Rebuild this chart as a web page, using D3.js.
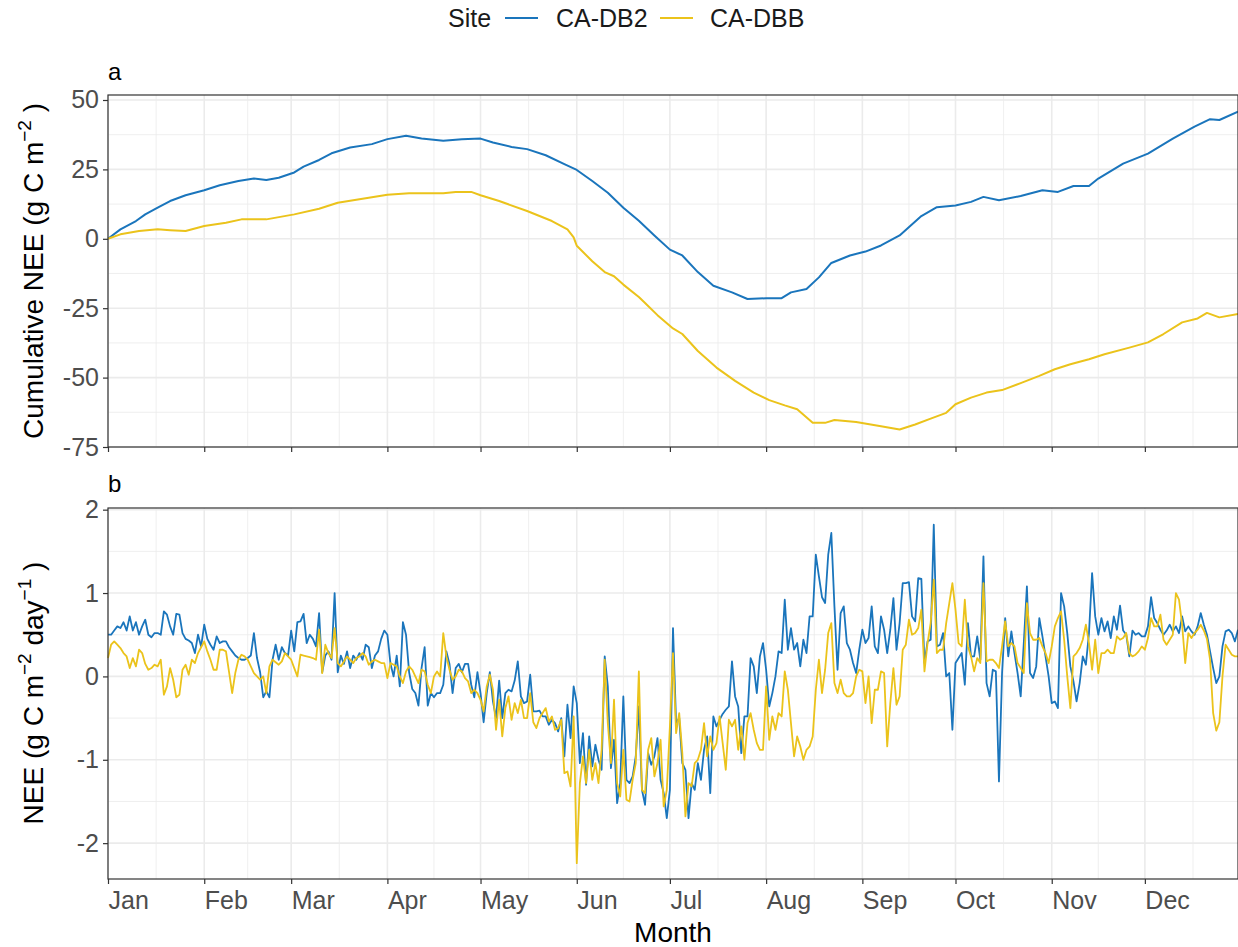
<!DOCTYPE html>
<html>
<head>
<meta charset="UTF-8">
<title>Cumulative and daily NEE</title>
<style>
  body { margin: 0; background: #fff; }
  svg { display: block; font-family: "Liberation Sans", Arial, Helvetica, sans-serif; }
  .grid-major { stroke: #ebebeb; stroke-width: 1.6; }
  .grid-minor { stroke: #ebebeb; stroke-width: 0.8; }
  .frame { fill: none; stroke: #333; stroke-width: 1.2; }
  .axis path { display: none; }
  .axis line { stroke: #333; stroke-width: 1.2; }
  .axis text { fill: #4d4d4d; font-size: 25px; }
  .title { fill: #000; font-size: 28px; }
  .tag { fill: #000; font-size: 24px; }
  .legend { fill: #1a1a1a; font-size: 25px; }
</style>
</head>
<body>
<svg id="chart" width="1238" height="947"></svg>
<script src="https://d3js.org/d3.v7.min.js"></script>
<script>
// sites and colours
const sites = ["CA-DB2", "CA-DBB"];
const siteColors = ["#1a75bc", "#ebc31b"];

// month axis: day-of-year index of each month start
const monthStart = [0, 31, 59, 90, 120, 151, 181, 212, 243, 273, 304, 334];
const monthLabels = ["Jan", "Feb", "Mar", "Apr", "May", "Jun", "Jul", "Aug", "Sep", "Oct", "Nov", "Dec"];

// panel a: cumulative NEE (g C m-2), read at sample days
const db2CumDay = [0, 4, 9, 12, 16, 20, 25, 31, 36, 42, 47, 51, 55, 60, 63, 68, 72, 78, 85, 90, 96, 101, 108, 114, 120, 124, 130, 135, 141, 147, 151, 156, 161, 166, 171, 176, 181, 185, 190, 195, 201, 206, 212, 217, 220, 225, 229, 233, 239, 244, 249, 255, 262, 267, 273, 278, 282, 287, 294, 301, 306, 311, 316, 319, 327, 335, 343, 350, 355, 358, 364];
const db2Cum = [0, 3.4, 6.4, 8.8, 11.2, 13.6, 15.7, 17.5, 19.3, 20.8, 21.7, 21.2, 22, 23.9, 26, 28.4, 30.8, 32.9, 34.1, 35.9, 37.1, 36.1, 35.3, 35.9, 36.1, 34.7, 33.1, 32.3, 30.1, 26.9, 24.8, 20.8, 16.6, 11.2, 6.5, 1.2, -3.9, -6, -12, -16.9, -19.3, -21.7, -21.4, -21.4, -19.3, -18.1, -13.9, -8.7, -6, -4.6, -2.4, 1.2, 8.2, 11.4, 12, 13.3, 15.1, 13.9, 15.4, 17.5, 16.9, 19, 19, 21.7, 27.1, 30.7, 36.1, 40.4, 43.1, 42.8, 45.8];
const dbbCumDay = [0, 4, 10, 16, 20, 25, 31, 38, 43, 51, 60, 68, 74, 84, 90, 97, 108, 112, 117, 120, 126, 135, 143, 148, 150, 151, 156, 160, 163, 166, 171, 173, 177, 182, 185, 190, 196, 202, 208, 213, 218, 222, 227, 231, 234, 241, 249, 255, 260, 265, 270, 273, 278, 283, 288, 294, 300, 305, 310, 316, 321, 329, 335, 340, 346, 351, 354, 358, 364];
const dbbCum = [0, 1.6, 2.8, 3.4, 3.1, 2.8, 4.6, 5.8, 7, 7, 8.8, 10.8, 13, 14.8, 15.9, 16.4, 16.4, 16.9, 16.9, 15.7, 13.6, 10, 6.4, 3.4, 0.5, -2.5, -8.1, -12, -13.5, -16.5, -21, -23.1, -27.5, -32.3, -34.3, -40.4, -46.4, -51.2, -55.4, -58.1, -60, -61.4, -66.3, -66.3, -65.3, -66, -67.5, -68.7, -66.9, -64.8, -62.7, -59.6, -57.2, -55.4, -54.5, -52, -49.4, -47, -45.2, -43.4, -41.6, -39.2, -37.3, -34.3, -30.1, -28.7, -26.7, -28.3, -27.1];

// panel b: daily NEE (g C m-2 day-1), one value per day (day 0 = Jan 1)
const db2Nee = [
  0.5, 0.5, 0.55, 0.6, 0.58, 0.65, 0.55, 0.72, 0.55, 0.65,
  0.5, 0.6, 0.68, 0.5, 0.47, 0.52, 0.52, 0.5, 0.78, 0.74,
  0.6, 0.5, 0.75, 0.74, 0.52, 0.45, 0.43, 0.4, 0.28, 0.5,
  0.36, 0.62, 0.45, 0.38, 0.32, 0.48, 0.4, 0.42, 0.42, 0.35,
  0.3, 0.25, 0.22, 0.2, 0.2, 0.22, 0.25, 0.52, 0.22, 0.05,
  -0.25, -0.18, -0.25, 0.2, 0.38, 0.2, 0.35, 0.28, 0.25, 0.55,
  0.3, 0.65, 0.66, 0.75, 0.4, 0.5, 0.45, 0.36, 0.76, 0.05,
  0.25, 0.3, 0.2, 1.0, 0.05, 0.25, 0.15, 0.3, 0.1, 0.25,
  0.2, 0.28, 0.2, 0.38, 0.35, 0.1, 0.25, 0.3, 0.45, 0.55,
  0.5, 0.15, 0.0, 0.25, -0.12, 0.65, 0.5, 0.05, -0.15, -0.2,
  -0.35, 0.1, 0.35, -0.35, -0.2, -0.25, -0.2, -0.2, -0.1, 0.3,
  0.15, -0.2, 0.1, 0.15, 0.05, 0.15, 0.15, -0.1, -0.25, 0.05,
  -0.2, -0.55, -0.2, 0.05, -0.3, -0.5, -0.05, -0.5, -0.2, -0.16,
  -0.18, -0.05, 0.18, -0.24, -0.32, -0.3, 0.02, -0.42, -0.42, -0.41,
  -0.48, -0.48, -0.58, -0.52, -0.56, -0.66, -0.5, -0.96, -0.34, -0.74,
  -0.12, -0.32, -1.04, -0.68, -1.3, -0.72, -1.08, -0.82, -1.0, -1.12,
  0.24, -0.12, -1.1, -0.76, -1.52, -1.28, -0.24, -1.24, -1.28, -1.2,
  -0.96, -0.36, -1.36, -1.54, -0.92, -1.06, -0.96, -0.74, -1.24, -1.4,
  -1.7, -1.36, 0.58, -0.56, -0.5, -1.04, -1.12, -1.7, -1.28, -1.36,
  -1.04, -1.24, -0.88, -0.72, -1.4, -0.48, -0.6, -0.52, -0.45, -0.4,
  -0.36, 0.18, -0.24, -0.36, -0.92, -0.48, -0.48, 0.22, 0.12, -0.2,
  0.24, 0.4, 0.08, -0.36, -0.2, 0.0, 0.3, 0.28, 0.92, 0.32,
  0.58, 0.32, 0.4, 0.12, 0.44, 0.28, 0.72, 0.72, 1.46, 1.2,
  0.95, 0.88, 1.46, 1.72, 0.84, 0.08, 0.76, 0.84, 0.4, 0.32,
  0.16, 0.04, 0.32, 0.56, 0.4, 0.46, 0.84, 0.36, 0.28, 0.72,
  0.56, 0.28, 0.56, 0.94, 0.32, 0.64, 1.12, 1.12, 1.13, 0.72,
  0.66, 1.18, 1.17, 0.16, 0.42, 0.44, 1.82, 0.36, 0.38, 0.52,
  0.0, 0.04, -0.64, 0.16, 0.22, 0.28, -0.1, 0.64, 0.24, 0.24,
  0.48, 0.2, 1.44, -0.08, -0.24, 0.08, 0.06, -1.26, 0.04, 0.7,
  0.24, 0.54, 0.28, 0.04, -0.24, 0.4, 1.08, 0.04, -0.02, 0.12,
  0.7, 0.48, 0.24, 0.0, -0.32, -0.3, -0.38, 1.0, 0.84, 0.52,
  0.12, -0.06, -0.3, -0.08, 0.24, 0.14, 0.52, 1.24, 0.72, 0.5,
  0.7, 0.54, 0.66, 0.46, 0.72, 0.56, 0.85, 0.55, 0.5, 0.24,
  0.55, 0.5, 0.52, 0.48, 0.48, 0.6, 0.95, 0.7, 0.64, 0.56,
  0.5, 0.55, 0.62, 0.54, 0.6, 0.52, 0.72, 0.54, 0.6, 0.54,
  0.5, 0.6, 0.76, 0.62, 0.5, 0.3, 0.1, -0.08, 0.0, 0.36,
  0.54, 0.56, 0.52, 0.42, 0.56
];
const dbbNee = [
  0.22, 0.38, 0.42, 0.38, 0.34, 0.28, 0.24, 0.1, 0.22, 0.12,
  0.32, 0.28, 0.15, 0.08, 0.1, 0.14, 0.12, 0.2, -0.22, -0.12,
  0.1, -0.04, -0.25, -0.22, 0.08, 0.14, 0.02, 0.2, 0.16, 0.28,
  0.35, 0.42, 0.3, 0.2, 0.08, 0.08, 0.32, 0.32, 0.3, 0.05,
  -0.2, 0.04, 0.2, 0.26, 0.24, 0.2, 0.12, 0.04, 0.0, -0.04,
  0.0, -0.2, 0.12, 0.2, 0.17, 0.14, 0.18, 0.28, 0.24, 0.2,
  0.1, 0.0, 0.26, 0.25, 0.24, 0.23, 0.22, 0.2, 0.56, 0.04,
  0.38, 0.28, 0.22, 0.58, 0.16, 0.12, 0.18, 0.24, 0.2, 0.16,
  0.22, 0.24, 0.28, 0.24, 0.14, 0.18, 0.2, 0.18, 0.16, 0.16,
  -0.02, 0.16, 0.14, 0.12, 0.0, -0.08, 0.06, 0.12, 0.08, 0.0,
  -0.08, 0.08, 0.06, -0.1, -0.2, 0.0, 0.06, 0.0, 0.52, 0.24,
  0.08, -0.04, 0.0, 0.08, 0.06, -0.02, -0.06, -0.2, -0.16, -0.2,
  -0.28, -0.42, -0.12, 0.02, -0.16, -0.64, -0.28, -0.72, -0.38, -0.24,
  -0.52, -0.32, -0.44, -0.28, -0.5, -0.5, -0.2, -0.55, -0.62, -0.5,
  -0.44, -0.38, -0.54, -0.48, -0.64, -0.62, -0.52, -1.16, -1.14, -1.32,
  -0.48, -2.24, -1.28, -0.96, -1.28, -0.88, -1.24, -1.04, -1.28, -0.88,
  0.2, -0.56, -1.04, -0.28, -1.28, -1.44, -0.88, -1.48, -1.5, -1.24,
  -1.04, 0.06, -1.36, -1.4, -0.88, -0.74, -1.2, -1.04, -0.76, -1.56,
  -1.36, -0.6, 0.28, -0.68, -0.44, -0.92, -1.68, -1.28, -1.32, -1.04,
  -1.0, -0.88, -0.56, -0.96, -0.72, -0.88, -0.8, -0.48, -0.8, -1.12,
  -0.52, -0.6, -0.52, -0.88, -0.6, -1.0, -0.56, -0.44, -0.64, -0.8,
  -0.88, -0.88, -0.12, -0.76, -0.48, -0.64, -0.44, -0.48, 0.06, -0.16,
  -0.56, -0.96, -0.72, -0.84, -1.0, -0.88, -0.84, -0.72, -0.16, 0.2,
  -0.2, 0.08, 0.52, 0.64, -0.08, -0.2, -0.04, -0.2, -0.24, -0.24,
  -0.2, 0.0, 0.08, 0.06, -0.32, 0.0, -0.56, -0.16, -0.16, 0.06,
  0.04, -0.84, -0.32, 0.1, -0.34, -0.24, 0.32, 0.38, 0.68, 0.5,
  0.52, 0.58, 0.8, 0.06, 0.4, 0.64, 1.16, 0.28, 0.32, 0.32,
  0.64, 0.88, 1.12, 0.8, 0.4, 0.36, 0.92, 0.36, 0.24, 0.06,
  0.22, 0.16, 1.12, 0.18, 0.2, 0.2, 0.16, 0.1, 0.36, 0.66,
  0.36, 0.4, 0.36, 0.16, 0.1, 0.04, 0.88, 0.52, 0.44, 0.44,
  0.46, 0.36, 0.28, 0.16, 0.36, 0.6, 0.7, 0.78, 0.44, 0.0,
  -0.38, 0.24, 0.28, 0.34, 0.44, 0.62, 0.4, 0.08, 0.44, 0.04,
  0.28, 0.28, 0.32, 0.28, 0.28, 0.48, 0.44, 0.46, 0.52, 0.28,
  0.24, 0.26, 0.3, 0.36, 0.32, 0.46, 0.7, 0.6, 0.6, 0.74,
  0.44, 0.38, 0.44, 0.5, 1.0, 0.92, 0.62, 0.16, 0.52, 0.46,
  0.52, 0.56, 0.62, 0.55, 0.45, 0.2, -0.44, -0.65, -0.55, 0.0,
  0.38, 0.32, 0.26, 0.24, 0.24
];

// axis tick values
const cumTicks = [-75, -50, -25, 0, 25, 50];
const neeTicks = [-2, -1, 0, 1, 2];

const svg = d3.select("#chart");
const left = 108, right = 1238;

const x = d3.scaleLinear().domain([0, 364]).range([left, right]);
const ya = d3.scaleLinear().domain([-75, 51.8]).range([447, 95]);
const yb = d3.scaleLinear().domain([-2.43, 2.02]).range([879, 508]);

// minor x breaks: midpoints between month starts (plus one past Dec)
const monthExt = monthStart.concat([365]);
const xMinor = d3.pairs(monthExt).map(p => (p[0] + p[1]) / 2);

function midpoints(ticks) {
    let step = ticks[1] - ticks[0];
    let ext = [ticks[0] - step].concat(ticks, [ticks[ticks.length - 1] + step]);
    return d3.pairs(ext).map(p => (p[0] + p[1]) / 2);
}

function drawPanel(y, ticks, showLabels) {
    let [y0, y1] = y.range();
    let g = svg.append("g");
    let dom = y.domain();
    let yMinor = midpoints(ticks).filter(v => v > dom[0] && v < dom[1]);

    g.selectAll(".gy-min").data(yMinor).enter().append("line")
        .attr("class", "grid-minor")
        .attr("x1", left).attr("x2", right)
        .attr("y1", d => y(d)).attr("y2", d => y(d));
    g.selectAll(".gx-min").data(xMinor).enter().append("line")
        .attr("class", "grid-minor")
        .attr("x1", d => x(d)).attr("x2", d => x(d))
        .attr("y1", y0).attr("y2", y1);
    g.selectAll(".gy-maj").data(ticks).enter().append("line")
        .attr("class", "grid-major")
        .attr("x1", left).attr("x2", right)
        .attr("y1", d => y(d)).attr("y2", d => y(d));
    g.selectAll(".gx-maj").data(monthStart).enter().append("line")
        .attr("class", "grid-major")
        .attr("x1", d => x(d)).attr("x2", d => x(d))
        .attr("y1", y0).attr("y2", y1);

    // y axis
    svg.append("g")
        .attr("class", "axis")
        .attr("transform", "translate(" + left + ",0)")
        .call(d3.axisLeft(y).tickValues(ticks).tickSize(5).tickPadding(4)
            .tickFormat(d => d3.format("d")(d).replace("−", "-")));

    // x axis
    let xa = svg.append("g")
        .attr("class", "axis")
        .attr("transform", "translate(0," + y0 + ")")
        .call(d3.axisBottom(x).tickValues(monthStart).tickSize(5).tickPadding(6)
            .tickFormat((d, i) => showLabels ? monthLabels[i] : ""));
    xa.selectAll("text").attr("text-anchor", "start").attr("dy", "0.75em");

    return g;
}

function drawLine(y, xs, ys, color, width) {
    let line = d3.line().x((d, i) => x(xs ? xs[i] : i)).y(d => y(d));
    svg.append("path")
        .datum(ys)
        .attr("fill", "none")
        .attr("stroke", color)
        .attr("stroke-width", width)
        .attr("stroke-linejoin", "round")
        .attr("d", line);
}

// panel a
drawPanel(ya, cumTicks, false);
drawLine(ya, db2CumDay, db2Cum, siteColors[0], 2);
drawLine(ya, dbbCumDay, dbbCum, siteColors[1], 2);
svg.append("rect").attr("class", "frame")
    .attr("x", left).attr("y", 95).attr("width", right - left).attr("height", 447 - 95);

// panel b
drawPanel(yb, neeTicks, true);
drawLine(yb, null, db2Nee, siteColors[0], 1.8);
drawLine(yb, null, dbbNee, siteColors[1], 1.8);
svg.append("rect").attr("class", "frame")
    .attr("x", left).attr("y", 508).attr("width", right - left).attr("height", 879 - 508);

// panel tags
svg.append("text").attr("class", "tag").attr("x", 108).attr("y", 80).text("a");
svg.append("text").attr("class", "tag").attr("x", 108).attr("y", 492).text("b");

// axis titles
let ta = svg.append("text").attr("class", "title")
    .attr("text-anchor", "middle")
    .attr("transform", "translate(43,271) rotate(-90)");
ta.append("tspan").text("Cumulative NEE (g C m");
ta.append("tspan").attr("font-size", "19px").attr("dy", "-12").text("\u22122");
ta.append("tspan").attr("dy", "12").text(" )");

let tb = svg.append("text").attr("class", "title")
    .attr("text-anchor", "middle")
    .attr("transform", "translate(43,693) rotate(-90)");
tb.append("tspan").text("NEE (g C m");
tb.append("tspan").attr("font-size", "19px").attr("dy", "-12").text("\u22122");
tb.append("tspan").attr("dy", "12").text(" day");
tb.append("tspan").attr("font-size", "19px").attr("dy", "-12").text("\u22121");
tb.append("tspan").attr("dy", "12").text(" )");

svg.append("text").attr("class", "title")
    .attr("text-anchor", "middle")
    .attr("x", (left + right) / 2).attr("y", 942)
    .text("Month");

// legend
let lg = svg.append("g");
lg.append("text").attr("class", "legend").attr("x", 448).attr("y", 27).text("Site");
let keyX = [505, 660], labX = [556, 710];
sites.forEach((s, i) => {
    lg.append("line")
        .attr("x1", keyX[i]).attr("x2", keyX[i] + 33)
        .attr("y1", 18).attr("y2", 18)
        .attr("stroke", siteColors[i]).attr("stroke-width", 2);
    lg.append("text").attr("class", "legend").attr("x", labX[i]).attr("y", 27).text(s);
});
</script>
</body>
</html>
